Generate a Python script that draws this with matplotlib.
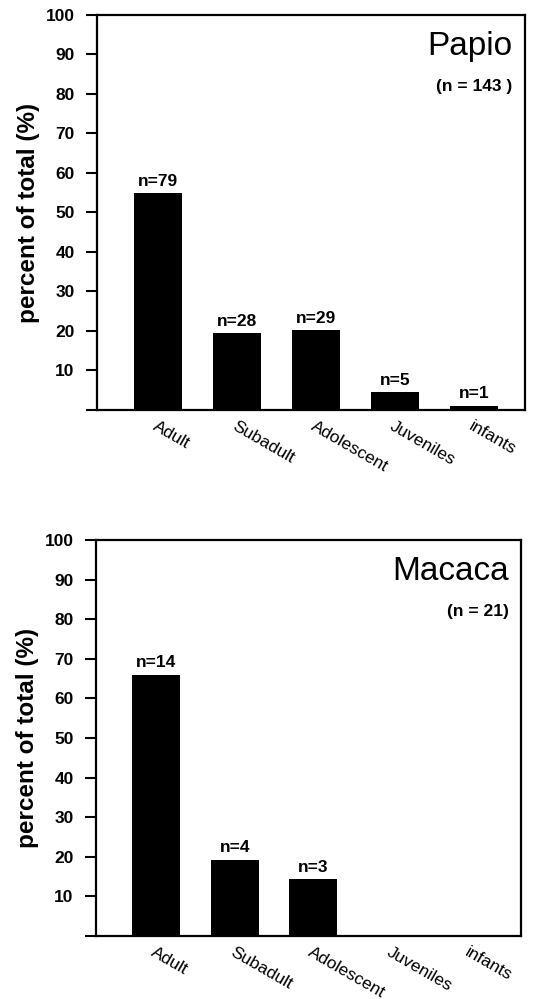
import matplotlib
matplotlib.use("Agg")
import matplotlib.pyplot as plt
import matplotlib.transforms as mtransforms

plt.rcParams['font.family'] = ['Liberation Sans', 'DejaVu Sans']

categories = ['Adult', 'Subadult', 'Adolescent', 'Juveniles', 'infants']

# Papio
papio_pct = [55.0, 19.5, 20.2, 4.6, 1.1]
papio_n = ['n=79', 'n=28', 'n=29', 'n=5', 'n=1']
papio_total = '(n = 143 )'

# Macaca
macaca_pct = [66.0, 19.3, 14.4, 0, 0]
macaca_n = ['n=14', 'n=4', 'n=3', '', '']
macaca_total = '(n = 21)'

yticks = [0, 10, 20, 30, 40, 50, 60, 70, 80, 90, 100]
ytick_labels = [''] + [str(v) for v in yticks[1:]]

fig = plt.figure(figsize=(5.38, 9.99), dpi=100)
ax1 = fig.add_axes([0.180, 0.5896, 0.796, 0.3954])
ax2 = fig.add_axes([0.178, 0.0631, 0.791, 0.3964])


def draw_panel(ax, pct, nlab, title, total):
    x = list(range(len(categories)))
    ax.bar(x, pct, width=0.61, color='black')
    for xi, v, t in zip(x, pct, nlab):
        if t:
            ax.annotate(t, (xi, v), xytext=(0, 3), textcoords='offset points',
                        ha='center', va='bottom', fontsize=12.5, fontweight='bold')
    ax.set_xlim(-0.77, 4.65)
    ax.set_ylim(0, 100)
    ax.set_yticks(yticks)
    ax.set_yticklabels(ytick_labels, fontsize=12.5, fontweight='bold')
    ax.set_xticks(x)
    ax.set_xticklabels(categories, fontsize=12.5, rotation=-30, ha='left',
                       va='top', rotation_mode='anchor')
    off = mtransforms.ScaledTranslation(-0.11, 0, fig.dpi_scale_trans)
    for lab in ax.get_xticklabels():
        lab.set_transform(lab.get_transform() + off)
    ax.tick_params(axis='x', length=0, pad=6)
    ax.tick_params(axis='y', length=8, width=1.5, pad=8, direction='out')
    for s in ax.spines.values():
        s.set_linewidth(1.6)
    ax.set_ylabel('percent of total (%)', fontsize=17.5, fontweight='bold', labelpad=4)
    ax.text(0.97, 0.92, title, transform=ax.transAxes, ha='right', va='center',
            fontsize=24)
    ax.text(0.97, 0.82, total, transform=ax.transAxes, ha='right', va='center',
            fontsize=12.5, fontweight='bold')


draw_panel(ax1, papio_pct, papio_n, 'Papio', papio_total)
draw_panel(ax2, macaca_pct, macaca_n, 'Macaca', macaca_total)

fig.savefig('out.png', dpi=100)
